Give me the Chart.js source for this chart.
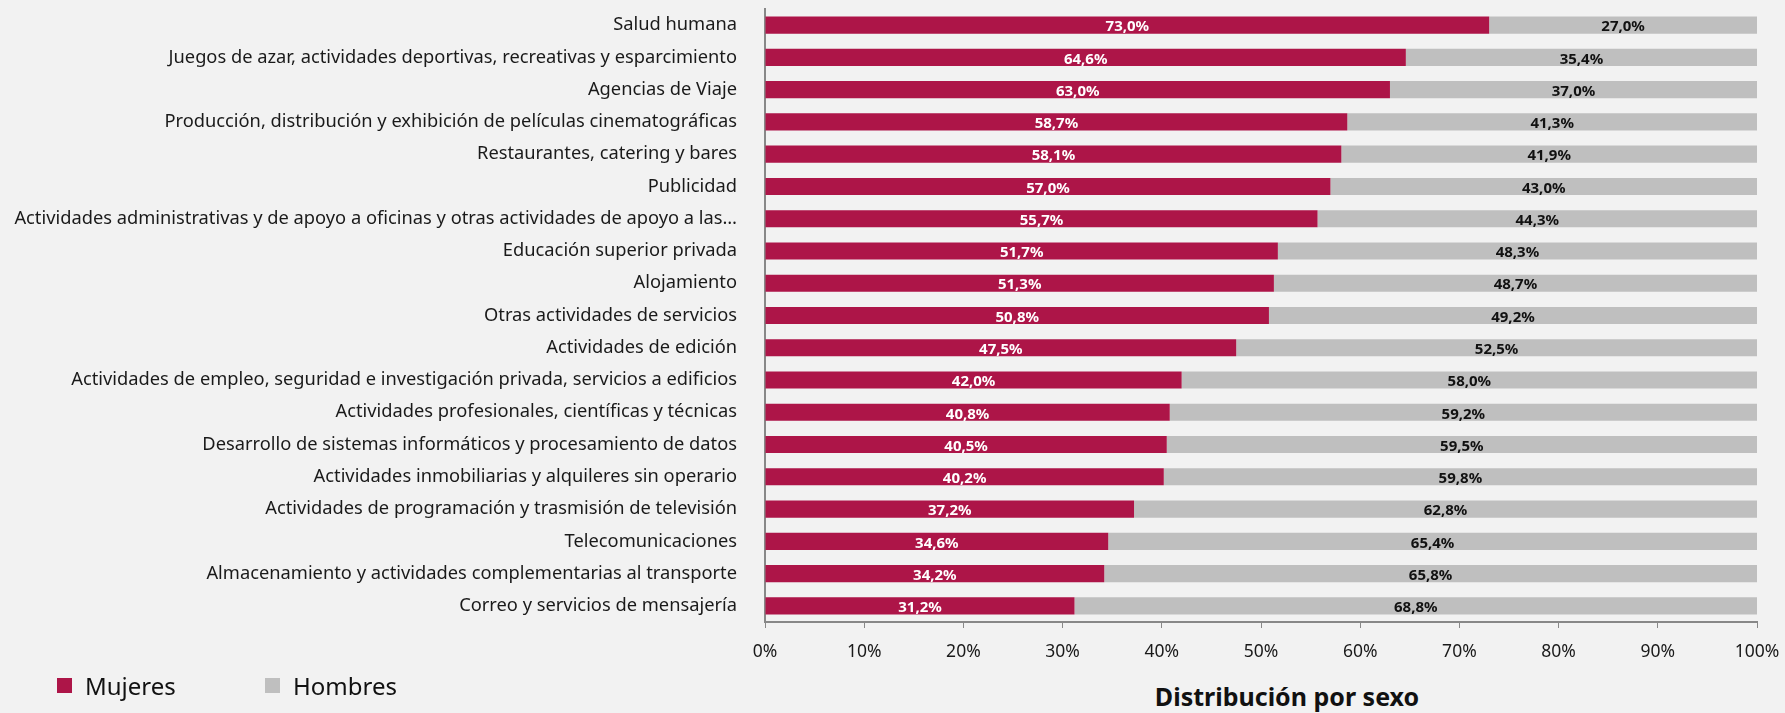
<!DOCTYPE html>
<html>
<head>
<meta charset="utf-8">
<script src="https://cdn.jsdelivr.net/npm/chart.js@4/dist/chart.umd.min.js"></script>
<style>
  html, body { margin: 0; padding: 0; background: #f2f2f2; overflow: hidden; }
  #wrap { position: relative; width: 1785px; height: 713px; overflow: hidden; }
  #chart { position: absolute; left: 0; top: -22px; }
  .leg { position: absolute; top: 669px; font: 24px "Noto Sans", sans-serif; color: #111; display: flex; align-items: center; }
  .leg span.box { display: inline-block; width: 15px; height: 15px; margin-right: 13px; }
  #title { position: absolute; left: 1087px; width: 400px; top: 679px; text-align: center; font: bold 25px "Noto Sans", sans-serif; color: #111; }
</style>
</head>
<body>
<div id="wrap">
  <canvas id="chart" width="1785" height="699"></canvas>
  <div class="leg" style="left:57px"><span class="box" style="background:#ad1548"></span>Mujeres</div>
  <div class="leg" style="left:265px"><span class="box" style="background:#bfbfbf"></span>Hombres</div>
  <div id="title">Distribución por sexo</div>
</div>
<script>
// categories, top to bottom
const sectores = [
    'Salud humana',
    'Juegos de azar, actividades deportivas, recreativas y esparcimiento',
    'Agencias de Viaje',
    'Producción, distribución y exhibición de películas cinematográficas',
    'Restaurantes, catering y bares',
    'Publicidad',
    'Actividades administrativas y de apoyo a oficinas y otras actividades de apoyo a las…',
    'Educación superior privada',
    'Alojamiento',
    'Otras actividades de servicios',
    'Actividades de edición',
    'Actividades de empleo, seguridad e investigación privada, servicios a edificios',
    'Actividades profesionales, científicas y técnicas',
    'Desarrollo de sistemas informáticos y procesamiento de datos',
    'Actividades inmobiliarias y alquileres sin operario',
    'Actividades de programación y trasmisión de televisión',
    'Telecomunicaciones',
    'Almacenamiento y actividades complementarias al transporte',
    'Correo y servicios de mensajería',
];
const mujeres = [73.0, 64.6, 63.0, 58.7, 58.1, 57.0, 55.7, 51.7, 51.3, 50.8, 47.5, 42.0, 40.8, 40.5, 40.2, 37.2, 34.6, 34.2, 31.2];
const hombres = [27.0, 35.4, 37.0, 41.3, 41.9, 43.0, 44.3, 48.3, 48.7, 49.2, 52.5, 58.0, 59.2, 59.5, 59.8, 62.8, 65.4, 65.8, 68.8];
const xTicks = [0, 10, 20, 30, 40, 50, 60, 70, 80, 90, 100];

const FONT = '"Noto Sans", sans-serif';

// simple value labels in the middle of each bar segment
const barLabels = {
    id: 'barLabels',
    afterDatasetsDraw(chart) {
        const ctx = chart.ctx;
        ctx.save();
        ctx.font = 'bold 15px ' + FONT;
        ctx.textAlign = 'center';
        ctx.textBaseline = 'middle';
        chart.data.datasets.forEach((ds, i) => {
            ctx.fillStyle = i === 0 ? '#ffffff' : '#111111';
            chart.getDatasetMeta(i).data.forEach((bar, j) => {
                const cx = (bar.x + bar.base) / 2;
                ctx.fillText(ds.data[j].toFixed(1).replace('.', ',') + '%', cx, bar.y + 2);
            });
        });
        ctx.restore();
    },
};

const ctx = document.getElementById('chart').getContext('2d');
new Chart(ctx, {
    type: 'bar',
    data: {
        labels: sectores,
        datasets: [
            { label: 'Mujeres', data: mujeres, backgroundColor: '#ad1548' },
            { label: 'Hombres', data: hombres, backgroundColor: '#bfbfbf' },
        ],
    },
    options: {
        indexAxis: 'y',
        responsive: false,
        animation: false,
        devicePixelRatio: 1,
        layout: { padding: { top: 7, right: 28, left: 8, bottom: 0 } },
        datasets: { bar: { categoryPercentage: 1, barPercentage: 0.53 } },
        plugins: { legend: { display: false }, tooltip: { enabled: false } },
        scales: {
            x: {
                stacked: true,
                min: 0,
                max: 100,
                afterBuildTicks: (axis) => { axis.ticks = xTicks.map(v => ({ value: v })); },
                afterFit: (axis) => { axis.paddingRight = 0; },
                ticks: {
                    callback: (v) => v + '%',
                    color: '#1a1a1a',
                    font: { family: FONT, size: 17.5 },
                    padding: 14,
                    maxRotation: 0,
                },
                grid: { drawOnChartArea: false, color: '#888', tickLength: 6 },
                border: { color: '#888', width: 2 },
            },
            y: {
                stacked: true,
                afterFit: (axis) => { axis.width = 757; },
                ticks: {
                    color: '#1a1a1a',
                    font: { family: FONT, size: 18.3 },
                    padding: 20,
                    autoSkip: false,
                },
                grid: { display: false },
                border: { color: '#888', width: 2 },
            },
        },
    },
    plugins: [barLabels],
});
</script>
</body>
</html>
